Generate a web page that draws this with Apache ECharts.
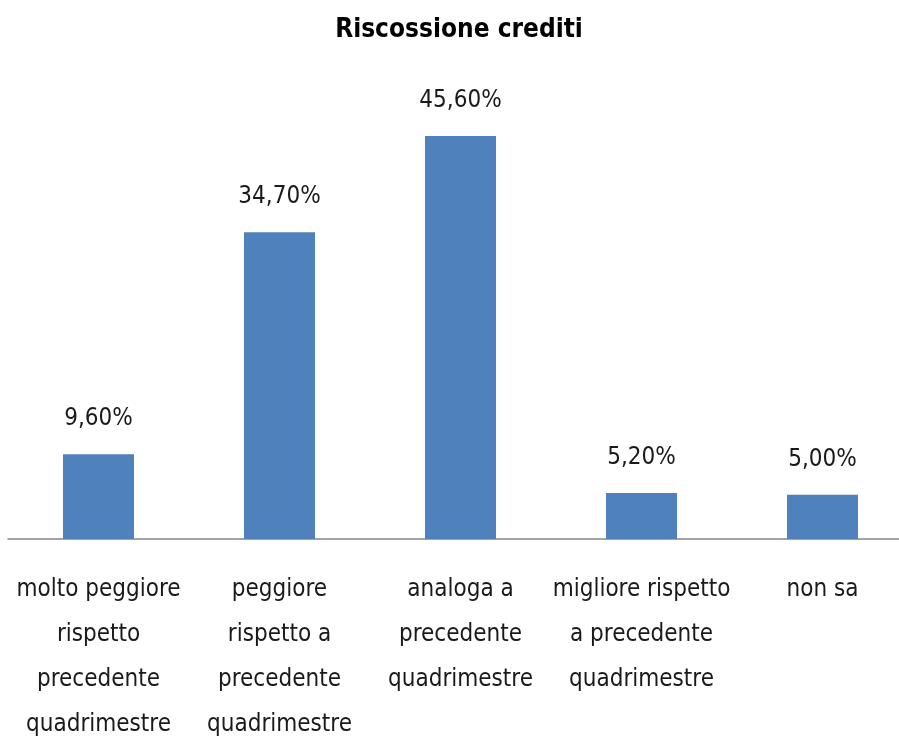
<!DOCTYPE html>
<html><head><meta charset="utf-8">
<script src="https://cdn.jsdelivr.net/npm/echarts@6/dist/echarts.min.js"></script>
<style>html,body{margin:0;padding:0;background:#fff}#c{width:899px;height:741px}</style>
</head><body><div id="c"></div>
<script>
const categories = ["molto peggiore\nrispetto\nprecedente\nquadrimestre", "peggiore\nrispetto a\nprecedente\nquadrimestre", "analoga a\nprecedente\nquadrimestre", "migliore rispetto\na precedente\nquadrimestre", "non sa"];
const values = [9.6, 34.7, 45.6, 5.2, 5.0];
const valueLabels = ["9,60%", "34,70%", "45,60%", "5,20%", "5,00%"];
const FONT = '"DejaVu Sans Condensed", "Liberation Sans Narrow", sans-serif';
const chart = echarts.init(document.getElementById('c'));
chart.setOption({
  animation: false,
  title: { text: 'Riscossione crediti', left: 454, top: 12, textAlign: 'center',
    textStyle: { fontFamily: FONT, fontSize: 26, fontWeight: 'bold', color: '#000' } },
  grid: { left: 8, top: 97, width: 905, height: 442, containLabel: false, outerBoundsMode: 'none' },
  xAxis: { type: 'category', data: categories,
    axisLine: { lineStyle: { color: '#868686', width: 1.5 } },
    axisTick: { show: false },
    axisLabel: { interval: 0, margin: 28, fontFamily: FONT, fontSize: 24, lineHeight: 45, color: '#1a1a1a' } },
  yAxis: { type: 'value', min: 0, max: 50, show: false, splitLine: { show: false } },
  series: [{ type: 'bar', data: values, barWidth: 71, itemStyle: { color: '#4F81BD' },
    label: { show: true, position: 'top', distance: 23, fontFamily: FONT, fontSize: 24, color: '#1a1a1a',
      formatter: p => valueLabels[p.dataIndex] } }]
});
</script></body></html>
